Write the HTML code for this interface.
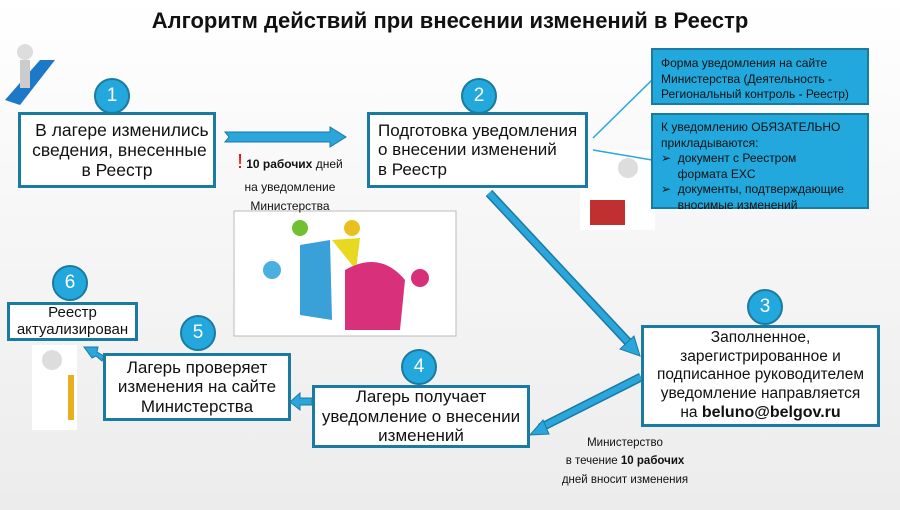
<!DOCTYPE html>
<html><head><meta charset="utf-8"><style>
body{margin:0}
#p{position:relative;width:900px;height:510px;overflow:hidden;background:linear-gradient(#ffffff 0%,#f7f7f7 40%,#ececec 100%);font-family:"Liberation Sans",sans-serif;color:#111}
.b{position:absolute;box-sizing:border-box;border:3px solid #1b7aa0;background:#fff;text-align:center;display:flex;align-items:center;justify-content:center;line-height:1.15}
.b>div{width:100%}
.c{position:absolute;width:36px;height:36px;border-radius:50%;background:#22a8dc;border:2px solid #1b7aa0;box-sizing:border-box;color:#fff;font-size:19px;display:flex;align-items:center;justify-content:center}
.t{position:absolute;font-size:12px;text-align:center;line-height:1.6}
.cl{position:absolute;box-sizing:border-box;background:#22a8dc;border:2px solid #1b7aa0;font-size:12px;line-height:1.3;padding:6px 8px;color:#111}
</style></head><body><div id="p">
<div style="position:absolute;left:0;width:900px;top:8px;text-align:center;font-size:22px;font-weight:bold">Алгоритм действий при внесении изменений в Реестр</div>
<svg style="position:absolute;left:0;top:0" width="900" height="510">
<rect x="234" y="211" width="222" height="125" fill="#fff" stroke="#bbb"/>
<path d="M300 245 L330 240 L332 320 L300 315Z" fill="#3aa0d8"/><path d="M332 240 L360 238 L356 270 Z" fill="#e8d820"/><path d="M345 270 Q380 250 405 280 L400 330 L345 330Z" fill="#d8307a"/>
<circle cx="272" cy="270" r="9" fill="#4ab0e0"/><circle cx="300" cy="228" r="8" fill="#70c030"/><circle cx="352" cy="228" r="8" fill="#e8c020"/><circle cx="420" cy="278" r="9" fill="#d83078"/>
<path d="M5 100 L40 60 L55 60 L20 105Z" fill="#1e78c8"/><circle cx="25" cy="52" r="8" fill="#ddd"/><rect x="20" y="60" width="10" height="28" fill="#ccc"/>
<rect x="580" y="150" width="75" height="80" fill="#fff"/><rect x="590" y="200" width="35" height="25" fill="#c03030"/><circle cx="628" cy="168" r="10" fill="#ddd"/>
<rect x="32" y="345" width="45" height="85" fill="#fff"/><circle cx="52" cy="360" r="10" fill="#ddd"/><rect x="68" y="375" width="6" height="45" fill="#e8b020"/>
<g fill="#2aa6dc" stroke="#1b7aa0" stroke-width="1">
<polygon points="225,132 330,132 330,127 346,137 330,147 330,142 225,142 229,137"/>
</g>
<g stroke="#1b7aa0" stroke-width="9" stroke-linecap="butt"><line x1="489" y1="193" x2="628" y2="342"/><line x1="641" y1="377" x2="540" y2="428"/></g>
<g stroke="#2aa6dc" stroke-width="6"><line x1="489" y1="193" x2="628" y2="342"/><line x1="641" y1="377" x2="540" y2="428"/></g>
<g fill="#2aa6dc" stroke="#1b7aa0"><polygon points="620,349 640,356 634,336"/><polygon points="543,420 530,435 549,434"/>
<polygon points="312,398 300,398 300,393 290,402 300,410 300,405 312,405"/>
<polygon points="104,356 97,352 98,347 84,347 92,358 96,356 102,361"/></g>
<g stroke="#2aa6dc" stroke-width="1.5"><line x1="652" y1="80" x2="593" y2="138"/><line x1="652" y1="160" x2="593" y2="150"/></g>
</svg>
<div class="b" style="left:18px;top:112px;width:198px;height:76px;font-size:17.5px"><div>&nbsp;&nbsp;В лагере изменились<br>&nbsp;сведения, внесенные<br>в Реестр</div></div>
<div class="c" style="left:94px;top:78px">1</div>
<div class="t" style="left:225px;top:146px;width:130px"><span style="color:#e00;font-size:20px">!</span> <b>10 рабочих</b> дней<br>на уведомление<br>Министерства</div>
<div class="b" style="left:367px;top:112px;width:221px;height:76px;font-size:17px;justify-content:flex-start;padding-left:8px"><div style="text-align:left">Подготовка уведомления<br>о внесении изменений<br>в Реестр</div></div>
<div class="c" style="left:461px;top:78px">2</div>
<div class="cl" style="left:651px;top:48px;width:218px;height:57px">Форма уведомления на сайте Министерства (Деятельность - Региональный контроль - Реестр)</div>
<div class="cl" style="left:651px;top:113px;width:218px;height:96px;padding-top:5px">К уведомлению ОБЯЗАТЕЛЬНО прикладываются:<br>➢&nbsp; документ с Реестром<br>&nbsp;&nbsp;&nbsp;&nbsp;&nbsp;формата EXC<br>➢&nbsp; документы, подтверждающие<br>&nbsp;&nbsp;&nbsp;&nbsp;&nbsp;вносимые изменений</div>
<div class="b" style="left:641px;top:325px;width:239px;height:102px;font-size:15.5px;line-height:1.2"><div>Заполненное,<br>зарегистрированное и<br>подписанное руководителем<br>уведомление направляется<br>на <b style="font-size:16px">beluno@belgov.ru</b></div></div>
<div class="c" style="left:747px;top:289px">3</div>
<div class="t" style="left:540px;top:434px;width:170px;font-size:11.5px">Министерство<br>в течение <b>10 рабочих</b><br>дней вносит изменения</div>
<div class="b" style="left:312px;top:385px;width:218px;height:63px;font-size:17px"><div>Лагерь получает уведомление о внесении изменений</div></div>
<div class="c" style="left:401px;top:349px">4</div>
<div class="b" style="left:103px;top:353px;width:188px;height:68px;font-size:17px"><div>Лагерь проверяет изменения на сайте Министерства</div></div>
<div class="c" style="left:180px;top:315px">5</div>
<div class="b" style="left:7px;top:302px;width:131px;height:39px;font-size:15px;line-height:1.1"><div>Реестр актуализирован</div></div>
<div class="c" style="left:52px;top:265px">6</div>
</div></body></html>
